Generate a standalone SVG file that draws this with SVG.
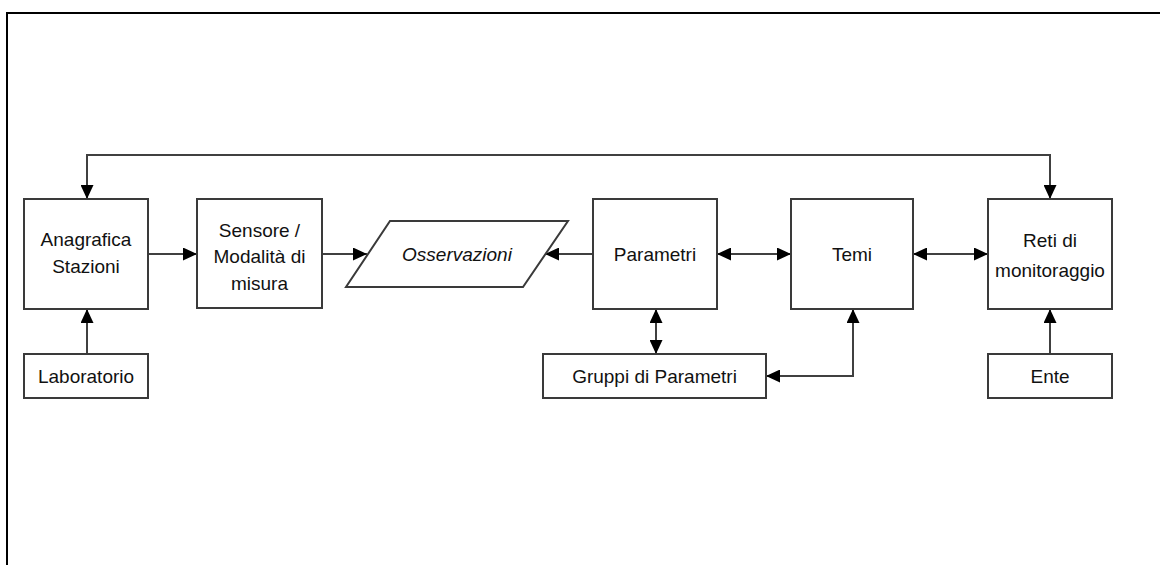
<svg xmlns="http://www.w3.org/2000/svg" width="1160" height="565" viewBox="0 0 1160 565">
<style>
.box{fill:#fff;stroke:#3a3a3a;stroke-width:2}
.t{font-family:"Liberation Sans",Arial,sans-serif;font-size:19px;fill:#111;text-anchor:middle}
.it{font-style:italic}
.c{fill:none;stroke:#404040;stroke-width:2}
</style>
<defs>
<marker id="ah" viewBox="0 0 14 13" refX="14" refY="6.5" markerWidth="14" markerHeight="13" markerUnits="userSpaceOnUse" orient="auto-start-reverse">
<path d="M0,0 L14,6.5 L0,13 Z" fill="#000"/>
</marker>
</defs>
<rect width="1160" height="565" fill="#fff"/>
<path d="M7,565 V13 H1160" fill="none" stroke="#000" stroke-width="2"/>
<g id="connectors">
<path class="c" d="M87,199 V155 H1050 V199" marker-start="url(#ah)" marker-end="url(#ah)"/>
<path class="c" d="M148,254 H197" marker-end="url(#ah)"/>
<path class="c" d="M322,254 H367" marker-end="url(#ah)"/>
<path class="c" d="M593,254 H545" marker-end="url(#ah)"/>
<path class="c" d="M717,254 H791" marker-start="url(#ah)" marker-end="url(#ah)"/>
<path class="c" d="M913,254 H988" marker-start="url(#ah)" marker-end="url(#ah)"/>
<path class="c" d="M656,309 V354" marker-start="url(#ah)" marker-end="url(#ah)"/>
<path class="c" d="M853,309 V376 H766" marker-start="url(#ah)" marker-end="url(#ah)"/>
<path class="c" d="M87,354 V309" marker-end="url(#ah)"/>
<path class="c" d="M1050,354 V309" marker-end="url(#ah)"/>
</g>
<g id="anagrafica">
<rect class="box" x="24" y="199" width="124" height="110"/>
<text class="t" x="86" y="246">Anagrafica</text>
<text class="t" x="86" y="273">Stazioni</text>
</g>
<g id="sensore">
<rect class="box" x="197" y="199" width="125" height="109"/>
<text class="t" x="259.5" y="237">Sensore /</text>
<text class="t" x="259.5" y="263">Modalità di</text>
<text class="t" x="259.5" y="290">misura</text>
</g>
<g id="osservazioni">
<path class="box" d="M390,221 H568 L523,287 H346 Z"/>
<text class="t it" x="457" y="261">Osservazioni</text>
</g>
<g id="parametri">
<rect class="box" x="593" y="199" width="124" height="110"/>
<text class="t" x="655" y="261">Parametri</text>
</g>
<g id="temi">
<rect class="box" x="791" y="199" width="122" height="110"/>
<text class="t" x="852" y="261">Temi</text>
</g>
<g id="reti">
<rect class="box" x="988" y="199" width="124" height="110"/>
<text class="t" x="1050" y="247">Reti di</text>
<text class="t" x="1050" y="277">monitoraggio</text>
</g>
<g id="laboratorio">
<rect class="box" x="24" y="354" width="124" height="44"/>
<text class="t" x="86" y="383">Laboratorio</text>
</g>
<g id="gruppi">
<rect class="box" x="543" y="354" width="223" height="44"/>
<text class="t" x="654.5" y="383">Gruppi di Parametri</text>
</g>
<g id="ente">
<rect class="box" x="988" y="354" width="124" height="44"/>
<text class="t" x="1050" y="383">Ente</text>
</g>
</svg>
